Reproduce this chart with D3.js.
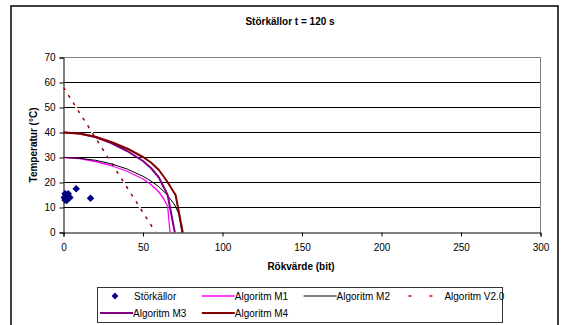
<!DOCTYPE html>
<html>
<head>
<meta charset="utf-8">
<script src="https://cdn.jsdelivr.net/npm/d3@7"></script>
<style>
body { margin: 0; background: #fff; }
svg text { font-family: "Liberation Sans", Arial, sans-serif; }
</style>
</head>
<body>
<script>
// chart data
var chartTitle = "Störkällor t = 120 s";
var xTicks = [0, 50, 100, 150, 200, 250, 300];
var yTicks = [0, 10, 20, 30, 40, 50, 60, 70];

// scatter: Störkällor
var storX = [0.5, 1, 1.5, 2, 2.5, 3, 3.5, 4, 1, 2, 3, 8, 17];
var storY = [14, 13, 14.5, 12.8, 15, 15.5, 14, 14, 15.5, 13.5, 13.8, 17.5, 13.7];

// line series (x = rökvärde, y = temperatur)
var m1X = [0, 10, 20, 30, 40, 50, 55, 60, 63, 65.5, 67];
var m1Y = [30, 29.6, 28.4, 26.8, 24.5, 21.4, 19.2, 16.2, 13.5, 10.5, 0];
var m2X = [0, 10, 20, 30, 40, 50, 55, 60, 65, 70, 72.5, 74.5];
var m2Y = [30, 29.7, 28.9, 27.5, 25.4, 22.5, 20.6, 18.3, 15.2, 11, 7.5, 0];
var m3X = [0, 10, 20, 30, 40, 50, 55, 60, 65.5, 70];
var m3Y = [40, 39.6, 38.2, 35.8, 32.6, 28.6, 25.8, 22, 15, 0];
var m4X = [0, 10, 20, 30, 40, 50, 55, 60, 65, 70.5, 75];
var m4Y = [40, 39.6, 38.3, 36.2, 33.6, 30.2, 28, 25, 20.6, 15, 0];
var v2X = [0, 58];
var v2Y = [58, 0];

var width = 561, height = 325;
var svg = d3.select("body").append("svg")
  .attr("width", width)
  .attr("height", height);

// outer chart border
svg.append("rect")
  .attr("x", 11).attr("y", 6)
  .attr("width", 547).attr("height", 330)
  .attr("fill", "#fff")
  .attr("stroke", "#000")
  .attr("stroke-width", 1.5);

var xScale = d3.scaleLinear().domain([0, 300]).range([63.5, 540.5]);
var yScale = d3.scaleLinear().domain([0, 70]).range([232.5, 57.5]);

// title
svg.append("text")
  .attr("x", 290).attr("y", 25)
  .attr("text-anchor", "middle")
  .style("font-size", "10px")
  .style("font-weight", "bold")
  .text(chartTitle);

// gridlines
svg.append("g").selectAll("line")
  .data(yTicks.filter(function(d) { return d > 0 && d < 70; }))
  .enter().append("line")
  .attr("x1", xScale(0)).attr("x2", xScale(300))
  .attr("y1", function(d) { return yScale(d); })
  .attr("y2", function(d) { return yScale(d); })
  .attr("stroke", "#000")
  .attr("stroke-width", 1);

// plot area border (top/right grey)
svg.append("path")
  .attr("d", "M" + xScale(0) + "," + yScale(70) + "H" + xScale(300) + "V" + yScale(0))
  .attr("fill", "none")
  .attr("stroke", "#808080")
  .attr("stroke-width", 1);

// axes
var yAxis = svg.append("g")
  .attr("transform", "translate(" + xScale(0) + ",0)")
  .call(d3.axisLeft(yScale).tickValues(yTicks).tickSize(4).tickPadding(4));
var xAxis = svg.append("g")
  .attr("transform", "translate(0," + yScale(0) + ")")
  .call(d3.axisBottom(xScale).tickValues(xTicks).tickSize(4).tickPadding(7));
[yAxis, xAxis].forEach(function(ax) {
  ax.selectAll("text").style("font-size", "10px").attr("fill", "#000")
    .style("font-family", "'Liberation Sans', Arial, sans-serif");
  ax.selectAll("line,path").attr("stroke", "#000");
});

// axis titles
svg.append("text")
  .attr("x", 301).attr("y", 270)
  .attr("text-anchor", "middle")
  .style("font-size", "10px").style("font-weight", "bold")
  .text("Rökvärde (bit)");
svg.append("text")
  .attr("transform", "translate(37,145) rotate(-90)")
  .attr("text-anchor", "middle")
  .style("font-size", "10px").style("font-weight", "bold")
  .text("Temperatur (°C)");

function zipPts(xs, ys) {
  return xs.map(function(x, i) { return [x, ys[i]]; });
}
var line = d3.line()
  .x(function(d) { return xScale(d[0]); })
  .y(function(d) { return yScale(d[1]); });

// V2.0: white backed dashed line
svg.append("path").datum(zipPts(v2X, v2Y))
  .attr("d", line).attr("fill", "none")
  .attr("stroke", "#fff").attr("stroke-width", 1.5);
svg.append("path").datum(zipPts(v2X, v2Y))
  .attr("d", line).attr("fill", "none")
  .attr("stroke", "#990000").attr("stroke-width", 1.5)
  .attr("stroke-dasharray", "3,6");

var series = [
  { name: "Algoritm M1", xs: m1X, ys: m1Y, color: "#ff00ff", w: 1.3 },
  { name: "Algoritm M2", xs: m2X, ys: m2Y, color: "#000000", w: 1 },
  { name: "Algoritm M3", xs: m3X, ys: m3Y, color: "#800080", w: 2 },
  { name: "Algoritm M4", xs: m4X, ys: m4Y, color: "#800000", w: 2 }
];
series.forEach(function(s) {
  svg.append("path").datum(zipPts(s.xs, s.ys))
    .attr("d", line).attr("fill", "none")
    .attr("stroke", s.color).attr("stroke-width", s.w)
    .attr("stroke-linejoin", "round");
});

// scatter points
var diamond = d3.symbol().type(d3.symbolDiamond2).size(36);
svg.append("g").selectAll("path")
  .data(zipPts(storX, storY))
  .enter().append("path")
  .attr("d", diamond)
  .attr("transform", function(d) { return "translate(" + xScale(d[0]) + "," + yScale(d[1]) + ")"; })
  .attr("fill", "#000080");

// legend
var legend = svg.append("g");
legend.append("rect")
  .attr("x", 97.5).attr("y", 287.5)
  .attr("width", 405).attr("height", 35)
  .attr("fill", "#fff").attr("stroke", "#333").attr("stroke-width", 1);

var legendItems = [
  { name: "Störkällor", type: "dot", col: 0, row: 0 },
  { name: "Algoritm M1", color: "#ff00ff", w: 1.3, col: 1, row: 0 },
  { name: "Algoritm M2", color: "#000000", w: 1, col: 2, row: 0 },
  { name: "Algoritm V2.0", color: "#cc0000", w: 1.5, dash: true, col: 3, row: 0 },
  { name: "Algoritm M3", color: "#800080", w: 2, col: 0, row: 1 },
  { name: "Algoritm M4", color: "#800000", w: 2, col: 1, row: 1 }
];
legendItems.forEach(function(d) {
  var x0 = 100 + d.col * 101.8;
  var y0 = 296 + d.row * 17;
  if (d.type === "dot") {
    legend.append("path")
      .attr("d", d3.symbol().type(d3.symbolDiamond2).size(30))
      .attr("transform", "translate(" + (x0 + 15) + "," + y0 + ")")
      .attr("fill", "#000080");
  } else if (d.dash) {
    legend.append("line")
      .attr("x1", x0 + 3).attr("x2", x0 + 27)
      .attr("y1", y0).attr("y2", y0)
      .attr("stroke", d.color).attr("stroke-width", d.w)
      .attr("stroke-dasharray", "3,18");
  } else {
    legend.append("line")
      .attr("x1", x0).attr("x2", x0 + 33)
      .attr("y1", y0).attr("y2", y0)
      .attr("stroke", d.color).attr("stroke-width", d.w);
  }
  legend.append("text")
    .attr("x", d.dash ? x0 + 39 : (d.type === "dot" ? x0 + 34 : x0 + 33))
    .attr("y", y0).attr("dy", "0.35em")
    .style("font-size", "10px")
    .text(d.name);
});
</script>
</body>
</html>
